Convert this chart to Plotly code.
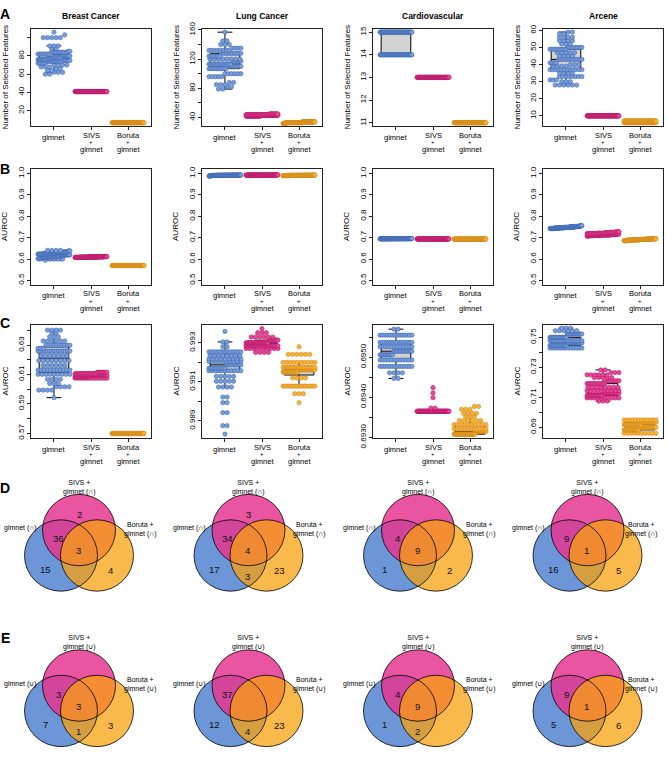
import plotly.graph_objects as go

# ---------------- DATA (value, count) ----------------
DATASETS = ["Breast Cancer", "Lung Cancer", "Cardiovascular", "Arcene"]
METHOD_LINES = [["glmnet"], ["SIVS", "+", "glmnet"], ["Boruta", "+", "glmnet"]]

# Number of selected features
BREAST_NF_GLMNET = [(60,2),(62,3),(64,2),(66,2),(68,3),(70,4),(72,6),(74,10),(75,6),(76,8),(77,6),(78,8),
                    (80,8),(82,8),(84,10),(85,2),(88,2),(91,3),(100,5),(103,1),(106,1)]
BREAST_NF_SIVS = [(41,100)]
BREAST_NF_BORUTA = [(7,100)]
LUNG_NF_GLMNET = [(79,2),(82,2),(85,3),(88,2),(96,5),(100,6),(107,10),(110,8),(113,14),(117,6),(120,8),
                  (124,6),(128,10),(132,8),(135,4),(140,3),(145,2),(157,1)]
LUNG_NF_SIVS = [(42,30),(43,35),(44,25),(45,10)]
LUNG_NF_BORUTA = [(32,10),(33,50),(34,40)]
CARDIO_NF_GLMNET = [(14,49),(15,51)]
CARDIO_NF_SIVS = [(13,100)]
CARDIO_NF_BORUTA = [(11,100)]
ARCENE_NF_GLMNET = [(28,6),(30,3),(31,3),(33,8),(35,4),(37,12),(39,4),(40,3),(41,4),(43,12),(45,4),(47,5),
                    (49,9),(50,8),(52,3),(54,4),(56,4),(58,2),(59,2)]
ARCENE_NF_SIVS = [(10,100)]
ARCENE_NF_BORUTA = [(6,40),(7,60)]

# AUROC
BREAST_AUC_GLMNET = [(0.5942,1),(0.5993,4),(0.6016,4),(0.6038,3),(0.6067,4),(0.6101,9),(0.6130,11),(0.6161,6),
                     (0.6195,8),(0.6228,7),(0.6260,15),(0.6278,3),(0.6300,10),(0.6329,6),(0.6358,3),(0.6385,2),(0.6403,4)]
BREAST_AUC_SIVS = [(0.6075,15),(0.6085,25),(0.6095,30),(0.6105,20),(0.6115,10)]
BREAST_AUC_BORUTA = [(0.5697,100)]
LUNG_AUC_GLMNET = [(0.98832,1),(0.98875,2),(0.98942,2),(0.98993,2),(0.99022,2),(0.99073,4),(0.99103,5),(0.99128,5),
                   (0.99157,11),(0.99170,10),(0.99187,9),(0.99204,10),(0.99217,9),(0.99234,8),(0.99254,15),(0.99280,2),
                   (0.99305,2),(0.99359,1)]
LUNG_AUC_SIVS = [(0.99251,4),(0.99271,10),(0.99285,30),(0.99300,32),(0.99314,14),(0.99330,6),(0.99352,3),(0.99373,1)]
LUNG_AUC_BORUTA = [(0.98993,1),(0.99039,3),(0.99078,17),(0.99120,4),(0.99150,18),(0.99162,20),(0.99174,20),
                   (0.99200,10),(0.99241,6),(0.99280,1)]
CARDIO_AUC_GLMNET = [(0.69447,2),(0.69461,4),(0.69477,14),(0.69493,12),(0.69506,10),(0.69515,14),(0.69526,12),
                     (0.69537,16),(0.69555,14),(0.69570,2)]
CARDIO_AUC_SIVS = [(0.69365,95),(0.69373,2),(0.69399,1),(0.69411,1),(0.69424,1)]
CARDIO_AUC_BORUTA = [(0.69308,40),(0.69315,20),(0.69321,12),(0.69332,10),(0.69342,6),(0.69352,3),(0.69360,4),
                     (0.69370,3),(0.69377,2)]
ARCENE_AUC_GLMNET = [(0.7429,13),(0.7447,16),(0.7463,14),(0.7478,18),(0.7500,16),(0.7522,14),(0.7544,6),(0.7562,3)]
ARCENE_AUC_SIVS = [(0.7075,3),(0.7096,10),(0.7112,17),(0.7127,17),(0.7144,10),(0.7166,8),(0.7192,11),(0.7210,8),
                   (0.7232,5),(0.7250,6),(0.7265,3),(0.7283,2)]
ARCENE_AUC_BORUTA = [(0.6860,10),(0.6883,18),(0.6900,20),(0.6918,22),(0.6934,18),(0.6949,12)]

# Venn counts: [SIVS only, SIVS&glmnet, all three, glmnet only, glmnet&Boruta, Boruta only, SIVS&Boruta]
VENN_D = [[2, 36, 3, 15, 0, 4, 0], [3, 34, 4, 17, 3, 23, 0], [0, 4, 9, 1, 0, 2, 0], [0, 9, 1, 16, 0, 5, 0]]
VENN_E = [[0, 3, 3, 7, 1, 3, 0], [0, 37, 0, 12, 4, 23, 0], [0, 4, 9, 1, 2, 0, 0], [0, 9, 1, 5, 0, 6, 0]]

# Axis settings
NF_RANGES = [(3, 110), (28, 162), (10.84, 15.16), (3.9, 61.1)]
NF_TICKS = [[20, 40, 60, 80, 100], [40, 60, 80, 100, 120, 140, 160], [11, 12, 13, 14, 15], [10, 20, 30, 40, 50, 60]]
NF_LABELS = [["20", "40", "60", "80", ""], ["40", "", "80", "", "120", "", "160"],
             ["11", "12", "13", "14", "15"], ["10", "20", "30", "40", "50", "60"]]
B_RANGE = (0.48, 1.02)
B_TICKS = [0.5, 0.6, 0.7, 0.8, 0.9, 1.0]
B_LABELS = ["0.5", "0.6", "0.7", "0.8", "0.9", "1.0"]
C_RANGES = [(0.5665, 0.644), (0.98811, 0.99393), (0.69298, 0.69581), (0.6828, 0.7584)]
C_TICKS = [[0.57, 0.58, 0.59, 0.60, 0.61, 0.62, 0.63, 0.64],
           [0.988, 0.989, 0.990, 0.991, 0.992, 0.993, 0.994],
           [0.6930, 0.6935, 0.6940, 0.6945, 0.6950, 0.6955],
           [0.69, 0.70, 0.71, 0.72, 0.73, 0.74, 0.75]]
C_LABELS = [["0.57", "", "0.59", "", "0.61", "", "0.63", ""],
            ["", "0.989", "", "0.991", "", "0.993", ""],
            ["0.6930", "", "0.6940", "", "0.6950", ""],
            ["0.69", "", "0.71", "", "0.73", "", "0.75"]]

NF = [[BREAST_NF_GLMNET, BREAST_NF_SIVS, BREAST_NF_BORUTA], [LUNG_NF_GLMNET, LUNG_NF_SIVS, LUNG_NF_BORUTA],
      [CARDIO_NF_GLMNET, CARDIO_NF_SIVS, CARDIO_NF_BORUTA], [ARCENE_NF_GLMNET, ARCENE_NF_SIVS, ARCENE_NF_BORUTA]]
AUC = [[BREAST_AUC_GLMNET, BREAST_AUC_SIVS, BREAST_AUC_BORUTA], [LUNG_AUC_GLMNET, LUNG_AUC_SIVS, LUNG_AUC_BORUTA],
       [CARDIO_AUC_GLMNET, CARDIO_AUC_SIVS, CARDIO_AUC_BORUTA], [ARCENE_AUC_GLMNET, ARCENE_AUC_SIVS, ARCENE_AUC_BORUTA]]

# ---------------- STYLE / GEOMETRY ----------------
W, H = 667, 762
FONT = "Liberation Sans, Arial, Helvetica, sans-serif"
COL_LEFT = [31, 202, 373, 543]
PLOT_W = 120
ROWS_PX = [(22, 122), (166, 284), (325, 441)]
XR = (0.38, 3.62)
FILL = ["rgb(122,158,218)", "rgb(232,70,150)", "rgb(246,178,60)"]
EDGE = ["rgb(60,102,178)", "rgb(185,25,105)", "rgb(212,138,22)"]
DOT = 4.3
AX = "#222222"

VENN_FILL = ["rgb(108,150,215)", "rgb(229,55,143)", "rgb(248,161,15)"]  # glmnet, SIVS, Boruta
VENN_OPAC = [1.0, 0.85, 0.75]
VR = 36.5
VCENTERS = [(-18, 0), (0, -26), (18, 0)]  # glmnet, SIVS, Boruta
VTEXT_POS = [(0, -42), (-21, -17), (-1, -5), (-34, 14), (-1, 21), (31, 15), (20, -17)]
VENN_BASE_X = [79, 248.5, 418, 587.5]
VENN_BASE_Y = [561, 720]
VENN_RIGHT_LABEL_DX = [61, 61, 61, 54]


def expand(pairs):
    return [v for v, c in pairs for _ in range(c)]


def swarm(pairs, yr, hpx):
    unit_px = PLOT_W / (XR[1] - XR[0])
    dx = DOT / unit_px
    maxw = 0.86
    binsz = DOT * (yr[1] - yr[0]) / hpx
    vals = sorted(expand(pairs))
    bins = {}
    for v in vals:
        bins.setdefault(round(v / binsz), []).append(v)
    xs, ys = [], []
    for k, vs in bins.items():
        n = len(vs)
        s = dx if n == 1 else min(dx, maxw / (n - 1))
        for i, v in enumerate(vs):
            xs.append((i - (n - 1) / 2) * s)
            ys.append(v)
    return xs, ys


fig = go.Figure()
layout = dict(width=W, height=H, margin=dict(l=0, r=0, t=0, b=0), showlegend=False,
              plot_bgcolor="white", paper_bgcolor="white", font=dict(family=FONT, size=8, color="black"))
annotations = []
shapes = []

ax = 0
for r in range(3):
    top, bot = ROWS_PX[r]
    for c in range(4):
        ax += 1
        left = COL_LEFT[c]
        if r == 0:
            yr, tv, tt, data = NF_RANGES[c], NF_TICKS[c], NF_LABELS[c], NF[c]
        elif r == 1:
            yr, tv, tt, data = B_RANGE, B_TICKS, B_LABELS, AUC[c]
        else:
            yr, tv, tt, data = C_RANGES[c], C_TICKS[c], C_LABELS[c], AUC[c]
        xa, ya = f"x{ax}", f"y{ax}"
        for k in range(3):
            vals = expand(data[k])
            fig.add_trace(go.Box(x=[k + 1] * len(vals), y=vals, xaxis=xa, yaxis=ya, width=0.8,
                                 fillcolor="rgb(211,211,211)", line=dict(color="black", width=1),
                                 boxpoints="outliers", whiskerwidth=0.5, quartilemethod="inclusive",
                                 marker=dict(color="rgba(0,0,0,0)", size=1, line=dict(width=0)),
                                 hoverinfo="skip"))
        for k in range(3):
            xs, ys = swarm(data[k], yr, bot - top)
            fig.add_trace(go.Scatter(x=[k + 1 + o for o in xs], y=ys, xaxis=xa, yaxis=ya, mode="markers",
                                     marker=dict(size=DOT, color=FILL[k], line=dict(color=EDGE[k], width=0.6)),
                                     hoverinfo="skip"))
        layout[f"xaxis{ax}"] = dict(domain=[left / W, (left + PLOT_W) / W], range=list(XR), tickvals=[1, 2, 3],
                                    showticklabels=False, ticks="outside", ticklen=3, tickcolor=AX,
                                    showline=True, mirror=True, linecolor=AX, linewidth=1, showgrid=False,
                                    zeroline=False, anchor=ya, fixedrange=True)
        layout[f"yaxis{ax}"] = dict(domain=[1 - bot / H, 1 - top / H], range=list(yr), tickvals=tv, ticktext=tt,
                                    tickangle=-90, ticks="outside", ticklen=3, tickcolor=AX,
                                    tickfont=dict(size=8, color="black", family=FONT),
                                    showline=True, mirror=True, linecolor=AX, linewidth=1, showgrid=False,
                                    zeroline=False, anchor=xa, fixedrange=True)
        # category labels
        for k in range(3):
            lines = METHOD_LINES[k]
            if len(lines) == 1:
                offs, sizes = [11.5], [7.5]
            else:
                offs, sizes = [9.5, 16.5, 24], [7.5, 6, 7.5]
            for txt, off, sz in zip(lines, offs, sizes):
                annotations.append(dict(text=txt, xref=xa, x=k + 1, yref="paper", y=1 - (bot + off) / H,
                                        showarrow=False, xanchor="center", yanchor="middle", borderpad=0,
                                        font=dict(size=sz, family=FONT, color="black")))
        # y title
        annotations.append(dict(text="Number of Selected Features" if r == 0 else "AUROC", xref="paper",
                                x=(left - 26) / W, yref="paper", y=1 - (top + bot) / 2 / H, textangle=-90,
                                showarrow=False, xanchor="center", yanchor="middle",
                                font=dict(size=8, family=FONT, color="black")))
        if r == 0:
            annotations.append(dict(text=f"<b>{DATASETS[c]}</b>", xref="paper", x=(left + PLOT_W / 2) / W,
                                    yref="paper", y=1 - 9 / H, showarrow=False, xanchor="center",
                                    yanchor="middle", font=dict(size=8.5, family=FONT, color="black")))

# Venn diagrams
for ri, (counts_row, sym) in enumerate([(VENN_D, "∩"), (VENN_E, "∪")]):
    by = VENN_BASE_Y[ri]
    for c in range(4):
        ax += 1
        bx = VENN_BASE_X[c]
        xa, ya = f"x{ax}", f"y{ax}"
        layout[f"xaxis{ax}"] = dict(domain=[(bx - 78) / W, (bx + 78) / W], range=[-78, 78], visible=False,
                                    anchor=ya, fixedrange=True)
        layout[f"yaxis{ax}"] = dict(domain=[1 - (by + 40) / H, 1 - (by - 82) / H], range=[40, -82],
                                    visible=False, anchor=xa, fixedrange=True)
        for (cx, cy), col, op in zip(VCENTERS, VENN_FILL, VENN_OPAC):
            shapes.append(dict(type="circle", xref=xa, yref=ya, x0=cx - VR, x1=cx + VR, y0=cy - VR, y1=cy + VR,
                               fillcolor=col, opacity=op, line=dict(width=0)))
        for (cx, cy) in VCENTERS:
            shapes.append(dict(type="circle", xref=xa, yref=ya, x0=cx - VR, x1=cx + VR, y0=cy - VR, y1=cy + VR,
                               line=dict(color="black", width=0.8)))
        for n, (tx, ty) in zip(counts_row[c], VTEXT_POS):
            if n:
                annotations.append(dict(text=str(n), xref=xa, yref=ya, x=tx, y=ty, showarrow=False,
                                        xanchor="center", yanchor="middle",
                                        font=dict(size=9.5, family=FONT, color="#111")))
        annotations.append(dict(text=f"SIVS +<br>glmnet ({sym})", xref=xa, yref=ya, x=0, y=-70, showarrow=False,
                                xanchor="center", yanchor="middle", font=dict(size=7, family=FONT, color="black")))
        annotations.append(dict(text=f"glmnet ({sym})", xref=xa, yref=ya, x=-59, y=-28, showarrow=False,
                                xanchor="center", yanchor="middle", font=dict(size=7, family=FONT, color="black")))
        annotations.append(dict(text=f"Boruta +<br>glmnet ({sym})", xref=xa, yref=ya, x=VENN_RIGHT_LABEL_DX[c],
                                y=-27, showarrow=False, xanchor="center", yanchor="middle",
                                font=dict(size=7, family=FONT, color="black")))

# panel letters
for letter, py in zip("ABCDE", [7, 166, 323, 492, 645]):
    annotations.append(dict(text=f"<b>{letter}</b>", xref="paper", yref="paper", x=5 / W, y=1 - py / H,
                            showarrow=False, xanchor="center", yanchor="middle",
                            font=dict(size=14, family=FONT, color="black")))

layout["annotations"] = annotations
layout["shapes"] = shapes
fig.update_layout(**layout)
fig.write_html("out.html", config={"displayModeBar": False},
               post_script="document.body.style.margin='0px';document.body.style.overflow='hidden';")
